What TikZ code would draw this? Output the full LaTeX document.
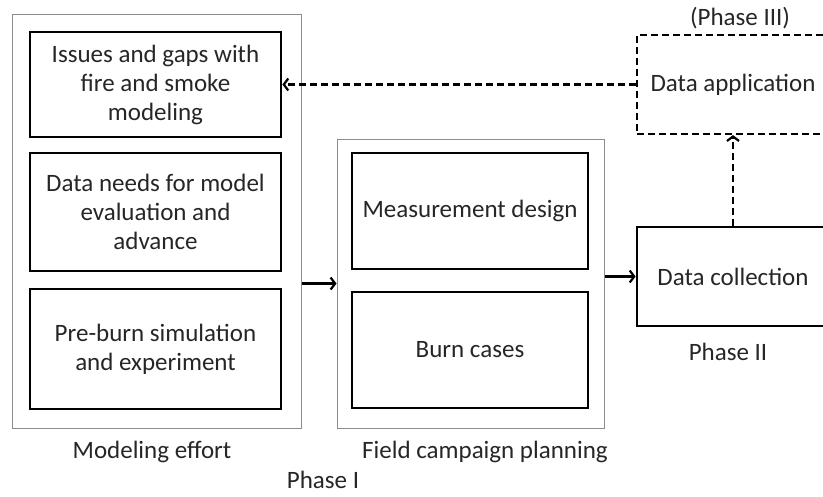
\documentclass[tikz,border=0pt]{standalone}
\usepackage{fontspec}
\setmainfont{Carlito}
\usepackage{tikz}
\usetikzlibrary{arrows.meta}
\usetikzlibrary{positioning}

\begin{document}
\begin{tikzpicture}[line join=miter,>={Straight Barb[length=4.5pt,width=12pt]},x=1pt,y=-1pt,
  every node/.style={font=\fontsize{25}{29}\selectfont,text=black!85,inner sep=0pt},
  outerbox/.style={draw=black!45,line width=1pt},
  innerbox/.style={draw=black,line width=2.8pt,align=center,minimum width=251pt},
  fieldbox/.style={innerbox,minimum width=236pt,minimum height=116pt},
  dashbox/.style={draw=black,line width=2.2pt,dash pattern=on 7pt off 4pt,minimum width=192pt,minimum height=99pt},
  link/.style={->,line width=2.2pt}]
\useasboundingbox (0,0) rectangle (823,496);
\clip (0,0) rectangle (823,496);
% Phase I: modeling effort
\node[outerbox,minimum width=289pt,minimum height=414pt] (modeling) at (156.5,221) {};
\node[innerbox,minimum height=105pt] (issues) at (155.5,84.5) {Issues and gaps with\\fire and smoke\\modeling};
\node[innerbox,minimum height=118pt] (needs) at (155.5,212) {Data needs for model\\evaluation and\\advance};
\node[innerbox,minimum height=120pt] (preburn) at (155.5,349) {Pre-burn simulation\\and experiment};
\node (modlabel) at (152,452) {Modeling effort};
% Phase I: field campaign planning
\node[outerbox,minimum width=267pt,minimum height=289pt] (field) at (470.5,283.5) {};
\node[fieldbox] (measure) at (470,211) {Measurement design};
\node[fieldbox] (burn) at (470,350) {Burn cases};
\node (fieldlabel) at (485,452) {Field campaign planning};
\node (phaseone) at (323,480) {Phase I};
% Phase II and III
\node[innerbox,minimum width=192pt,minimum height=99pt] (collect) at (733,276.5) {Data collection};
\node (phasetwo) at (728,352) {Phase II};
\node[dashbox] (apply) at (733,84.5) {Data application};
\node (phasethree) at (740,18) {(Phase III)};
% links
\draw[link] (modeling.east |- field.west) -- (field.west);
\draw[link] (field.east |- collect.west) -- (collect.west);
\draw[link,dash pattern=on 7pt off 4pt] (collect.north) -- (apply.south);
\draw[link,dash pattern=on 7pt off 4pt] (apply.west) -- (issues.east);
\end{tikzpicture}
\end{document}
